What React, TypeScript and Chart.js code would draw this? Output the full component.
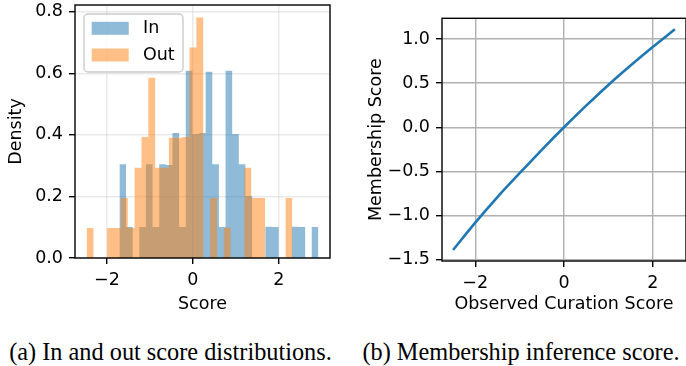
import React, { useEffect, useRef } from "react";
import { Chart, registerables } from "chart.js";

Chart.register(...registerables);

// ---------- data ----------
const IN_EDGES = [-1.71, -1.556, -1.401, -1.247, -1.092, -0.938, -0.783, -0.629, -0.474, -0.32, -0.165, -0.011, 0.144, 0.298, 0.453, 0.607, 0.762, 0.916, 1.071, 1.225, 1.38, 1.534, 1.689, 1.843, 1.998, 2.152, 2.307, 2.461, 2.616, 2.77, 2.925];
const IN_COUNTS = [3, 1, 0, 1, 3, 1, 3, 3, 4, 1, 6, 4, 4, 6, 3, 1, 6, 4, 3, 2, 0, 0, 1, 1, 0, 0, 1, 1, 0, 1];
const OUT_EDGES = [-2.475, -2.315, -2.155, -1.996, -1.836, -1.676, -1.516, -1.356, -1.196, -1.037, -0.877, -0.717, -0.557, -0.397, -0.237, -0.078, 0.082, 0.242, 0.402, 0.562, 0.722, 0.881, 1.041, 1.201, 1.361, 1.521, 1.681, 1.84, 2.0, 2.16, 2.32];
const OUT_COUNTS = [1, 0, 0, 1, 1, 2, 1, 3, 4, 6, 3, 3, 4, 4, 4, 7, 8, 0, 2, 0, 1, 0, 0, 3, 2, 2, 0, 0, 0, 2];
const HIST_LABELS = ["In", "Out"];
const HIST_X_TICKS = [-2, 0, 2];
const HIST_Y_TICKS = [0, 0.2, 0.4, 0.6, 0.8];
const HIST_X_RANGE = [-2.745, 3.195];
const HIST_Y_RANGE = [0, 0.822];

const CURVE_X = [-2.5, -2, -1.5, -1, -0.5, 0, 0.5, 1, 1.5, 2, 2.5];
const CURVE_Y = [-1.39, -1.08, -0.79, -0.52, -0.255, 0, 0.245, 0.48, 0.7, 0.91, 1.11];
const CURVE_X_TICKS = [-2, 0, 2];
const CURVE_Y_TICKS = [-1.5, -1, -0.5, 0, 0.5, 1];
const CURVE_X_RANGE = [-2.75, 2.75];
const CURVE_Y_RANGE = [-1.515, 1.235];

const CAPTION_A = "(a) In and out score distributions.";
const CAPTION_B = "(b) Membership inference score.";

// ---------- styles ----------
const BLUE = "rgba(31,119,180,0.5)";
const ORANGE = "rgba(255,127,14,0.5)";
const FONT = "DejaVu Sans";
const FS = 17.5;

const fmt = (v: number, d: number) => {
  const s = Math.abs(v).toFixed(d);
  return v < -1e-9 ? "\u2212" + s : s;
};

function density(counts: number[], edges: number[]) {
  const n = counts.reduce((a, b) => a + b, 0);
  return counts.map((c, i) => c / (n * (edges[i + 1] - edges[i])));
}
function stepPoints(edges: number[], dens: number[]) {
  return edges.map((e, i) => ({ x: e, y: dens[Math.min(i, dens.length - 1)] }));
}

const spines = {
  id: "spines",
  afterDraw(chart: any) {
    const { ctx, chartArea: a } = chart;
    ctx.save();
    ctx.strokeStyle = "#000";
    ctx.lineWidth = 1.4;
    ctx.strokeRect(a.left, a.top, a.right - a.left, a.bottom - a.top);
    ctx.restore();
  },
};

const histLegend = {
  id: "histLegend",
  afterDraw(chart: any) {
    const { ctx, chartArea: a } = chart;
    const x = a.left + 9, y = a.top + 9, w = 99, h = 58;
    ctx.save();
    ctx.beginPath();
    ctx.roundRect(x, y, w, h, 4);
    ctx.fillStyle = "rgba(255,255,255,0.8)";
    ctx.fill();
    ctx.strokeStyle = "#cccccc";
    ctx.lineWidth = 1.4;
    ctx.stroke();
    const cols = [BLUE, ORANGE];
    HIST_LABELS.forEach((label, i) => {
      const cy = y + 14.3 + i * 26.7;
      ctx.fillStyle = cols[i];
      ctx.fillRect(x + 7.7, cy - 6.5, 37, 13);
      ctx.fillStyle = "#000";
      ctx.font = `${FS}px "${FONT}"`;
      ctx.textBaseline = "middle";
      ctx.textAlign = "left";
      ctx.fillText(label, x + 59, cy);
    });
    ctx.restore();
  },
};

function axis(opts: any) {
  const { ticks, range, digits, title, size, horizontal, gridColor, titlePad, z } = opts;
  return {
    type: "linear",
    position: horizontal ? "bottom" : "left",
    min: range[0],
    max: range[1],
    z: z || 0,
    afterBuildTicks: (s: any) => {
      s.ticks = ticks.map((v: number) => ({ value: v }));
    },
    afterFit: (s: any) => {
      if (horizontal) s.height = size;
      else s.width = size;
      s.paddingTop = 0;
      s.paddingBottom = 0;
      s.paddingLeft = 0;
      s.paddingRight = 0;
    },
    grid: {
      color: gridColor,
      lineWidth: 1.4,
      drawTicks: true,
      tickLength: 6,
      tickColor: "#000",
      tickWidth: 1.4,
    },
    border: { display: false },
    ticks: {
      color: "#000",
      padding: 6,
      autoSkip: false,
      maxRotation: 0,
      font: { family: FONT, size: FS },
      callback: (v: any) => fmt(Number(v), digits),
    },
    title: {
      display: true,
      text: title,
      color: "#000",
      font: { family: FONT, size: FS },
      padding: titlePad,
    },
  };
}

function HistChart() {
  const ref = useRef<HTMLCanvasElement>(null);
  useEffect(() => {
    const inD = density(IN_COUNTS, IN_EDGES);
    const outD = density(OUT_COUNTS, OUT_EDGES);
    const chart = new Chart(ref.current!, {
      type: "line",
      data: {
        datasets: [
          {
            label: HIST_LABELS[0],
            data: stepPoints(IN_EDGES, inD),
            stepped: "before",
            fill: "origin",
            backgroundColor: BLUE,
            borderColor: "transparent",
            borderWidth: 0,
            pointRadius: 0,
            order: 1,
          },
          {
            label: HIST_LABELS[1],
            data: stepPoints(OUT_EDGES, outD),
            stepped: "before",
            fill: "origin",
            backgroundColor: ORANGE,
            borderColor: "transparent",
            borderWidth: 0,
            pointRadius: 0,
            order: 0,
          },
        ],
      } as any,
      options: {
        responsive: false,
        animation: false,
        layout: { padding: { left: 0, top: 5, right: 15, bottom: 15.5 } },
        plugins: { legend: { display: false }, tooltip: { enabled: false } },
        scales: {
          x: axis({ ticks: HIST_X_TICKS, range: HIST_X_RANGE, digits: 0, title: "Score", size: 56.5, horizontal: true, gridColor: "rgba(200,200,200,0.4)", titlePad: { top: 0, bottom: 0 }, z: 1 }),
          y: axis({ ticks: HIST_Y_TICKS, range: HIST_Y_RANGE, digits: 1, title: "Density", size: 75, horizontal: false, gridColor: "rgba(200,200,200,0.4)", titlePad: { top: 5.5, bottom: 0 }, z: 1 }),
        } as any,
      },
      plugins: [spines, histLegend],
    });
    return () => chart.destroy();
  }, []);
  return <canvas ref={ref} width={345} height={330} style={{ position: "absolute", left: 0, top: 0 }} />;
}

function CurveChart() {
  const ref = useRef<HTMLCanvasElement>(null);
  useEffect(() => {
    const chart = new Chart(ref.current!, {
      type: "line",
      data: {
        datasets: [
          {
            data: CURVE_X.map((x, i) => ({ x, y: CURVE_Y[i] })),
            borderColor: "#1f77b4",
            borderWidth: 2.6,
            pointRadius: 0,
            cubicInterpolationMode: "monotone",
            fill: false,
          },
        ],
      } as any,
      options: {
        responsive: false,
        animation: false,
        layout: { padding: { left: 0, top: 18.3, right: 0, bottom: 15 } },
        plugins: { legend: { display: false }, tooltip: { enabled: false } },
        scales: {
          x: axis({ ticks: CURVE_X_TICKS, range: CURVE_X_RANGE, digits: 0, title: "Observed Curation Score", size: 54, horizontal: true, gridColor: "#b0b0b0", titlePad: { top: 0, bottom: 0 } }),
          y: axis({ ticks: CURVE_Y_TICKS, range: CURVE_Y_RANGE, digits: 1, title: "Membership Score", size: 97, horizontal: false, gridColor: "#b0b0b0", titlePad: { top: 20.5, bottom: 0 } }),
        } as any,
      },
      plugins: [spines],
    });
    return () => chart.destroy();
  }, []);
  return <canvas ref={ref} width={341} height={330} style={{ position: "absolute", left: 345, top: 0 }} />;
}

const capStyle: React.CSSProperties = {
  position: "absolute",
  top: 338,
  fontFamily: '"Liberation Serif", "Times New Roman", serif',
  fontSize: 24.3,
  lineHeight: "28px",
  color: "#000",
  whiteSpace: "nowrap",
  textAlign: "center",
};

export default function App() {
  return (
    <div style={{ position: "absolute", left: 0, top: 0, width: 686, height: 366, background: "#fff", overflow: "hidden" }}>
      <HistChart />
      <CurveChart />
      <div style={{ ...capStyle, left: 0, width: 341 }}>{CAPTION_A}</div>
      <div style={{ ...capStyle, left: 359, width: 324 }}>{CAPTION_B}</div>
    </div>
  );
}
